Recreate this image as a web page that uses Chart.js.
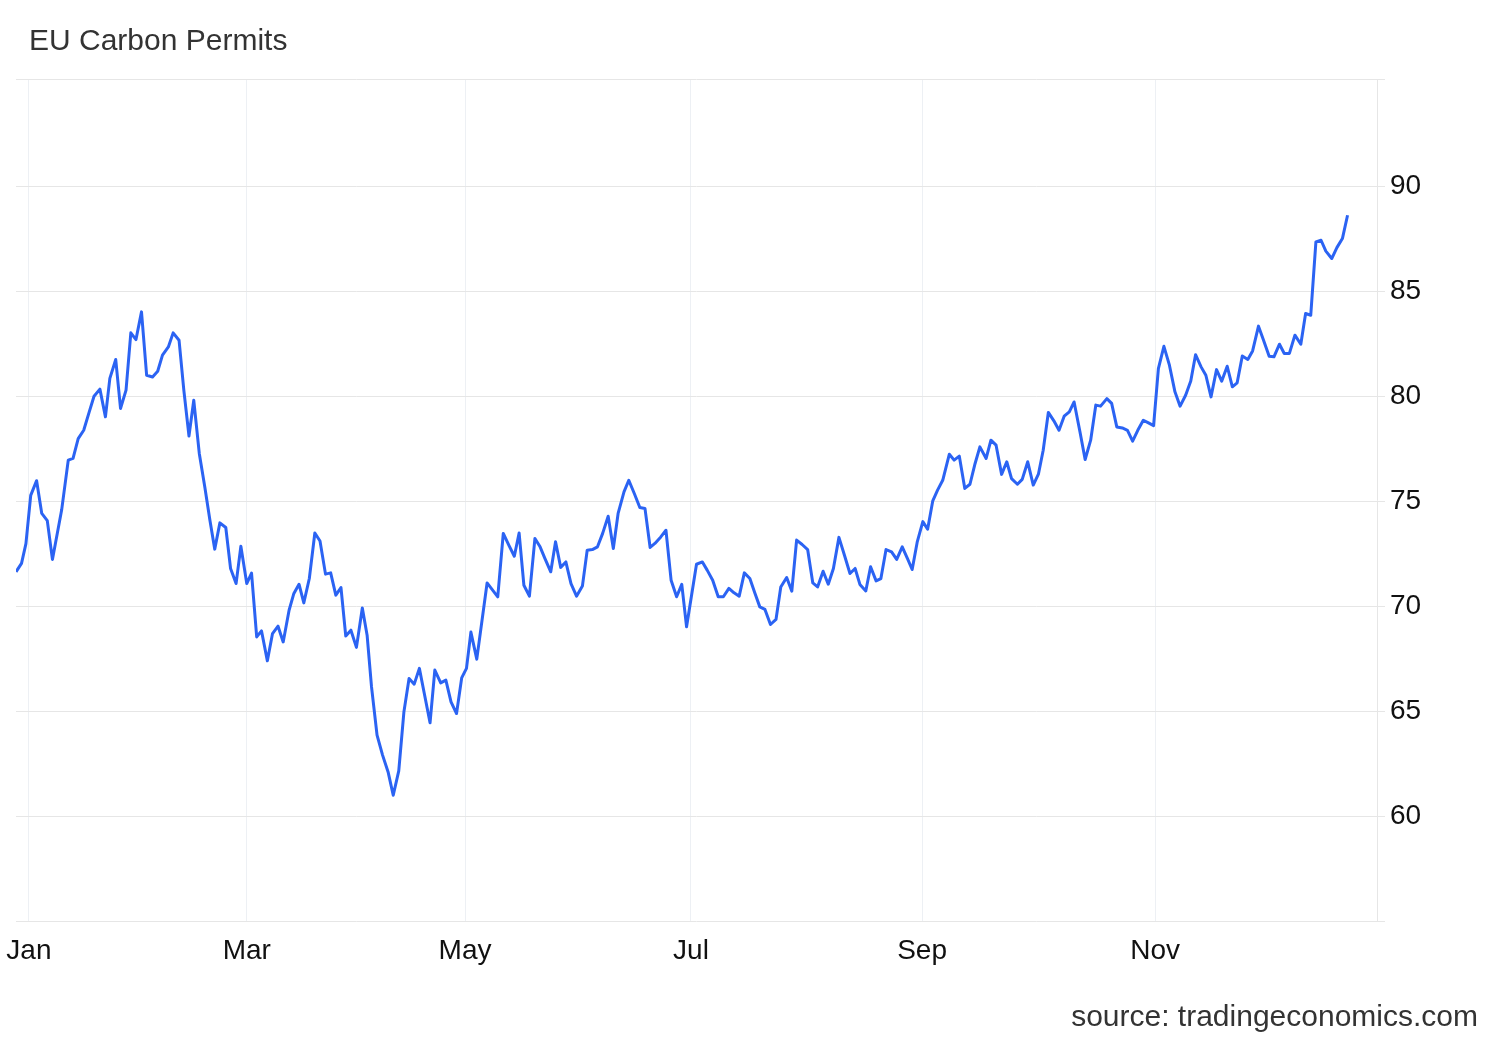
<!DOCTYPE html>
<html>
<head>
<meta charset="utf-8">
<title>EU Carbon Permits</title>
<script src="https://cdn.jsdelivr.net/npm/chart.js@4.4.1/dist/chart.umd.min.js"></script>
<style>
  html, body { margin: 0; padding: 0; background: #fff; }
  #wrap { position: relative; width: 1500px; height: 1040px; overflow: hidden; }
  #chart { position: absolute; left: 0; top: 0; }
  .txt { position: absolute; font-family: 'Liberation Sans', Arial, sans-serif; font-size: 30px; line-height: 30px; color: #333; white-space: nowrap; }
  #title  { left: 29px; top: 25px; }
  #source { right: 22px; top: 1001px; }
</style>
</head>
<body>
<div id="wrap">
  <canvas id="chart" width="1500" height="1040"></canvas>
  <div id="title" class="txt">EU Carbon Permits</div>
  <div id="source" class="txt">source: tradingeconomics.com</div>
</div>
<script>
// x = days since 1 Jan, y = EUR per tonne
const days = [
  -3.5, -2.0, -0.8, 0.5, 2.1, 3.5, 5.0, 6.4, 8.9, 10.7,
  12.0, 13.4, 14.9, 16.4, 17.7, 19.3, 20.8, 22.0, 23.6, 24.9,
  26.4, 27.7, 29.1, 30.6, 32.0, 33.6, 35.0, 36.3, 37.9, 39.2,
  40.8, 42.1, 43.5, 44.8, 46.3, 47.8, 49.2, 50.5, 51.9, 53.5,
  54.8, 56.3, 57.6, 59.2, 60.5, 61.9, 63.2, 64.8, 66.2, 67.7,
  69.1, 70.7, 72.0, 73.4, 74.7, 76.2, 77.7, 79.1, 80.6, 82.0,
  83.4, 84.8, 86.1, 87.5, 89.0, 90.6, 91.9, 93.1, 94.6, 96.1,
  97.6, 99.0, 100.5, 101.9, 103.3, 104.7, 106.1, 107.4, 109.0, 110.3,
  111.9, 113.3, 114.7, 116.2, 117.6, 118.9, 120.1, 121.7, 124.5, 127.4,
  128.9, 130.4, 131.9, 133.2, 134.5, 136.0, 137.5, 138.9, 140.2, 141.8,
  143.1, 144.5, 145.9, 147.3, 148.8, 150.4, 151.7, 153.1, 154.5, 155.9,
  157.4, 158.8, 160.1, 161.7, 163.0, 164.5, 166.0, 167.4, 168.8, 170.1,
  171.7, 173.1, 174.5, 176.0, 177.4, 178.7, 181.4, 183.0, 184.3, 185.8,
  187.3, 188.7, 190.2, 191.6, 193.0, 194.4, 195.9, 197.3, 198.6, 200.0,
  201.5, 203.0, 204.3, 205.9, 207.3, 208.6, 210.1, 211.6, 213.0, 214.3,
  215.8, 217.2, 218.6, 220.1, 221.6, 223.1, 224.5, 225.8, 227.4, 228.7,
  230.2, 231.5, 232.9, 234.4, 235.8, 237.3, 238.7, 240.0, 241.4, 242.9,
  244.2, 245.6, 246.9, 248.3, 250.1, 251.4, 252.8, 254.3, 255.7, 257.1,
  258.4, 260.1, 261.4, 262.8, 264.3, 265.7, 267.0, 268.6, 269.9, 271.4,
  272.9, 274.3, 275.6, 277.0, 278.5, 279.9, 281.3, 282.7, 284.0, 285.6,
  287.0, 288.5, 289.9, 291.2, 292.9, 294.2, 295.6, 297.1, 298.5, 299.9,
  301.3, 302.8, 304.2, 305.6, 306.9, 308.4, 309.9, 311.4, 312.8, 314.3,
  315.7, 317.0, 318.5, 319.8, 321.2, 322.7, 324.1, 325.6, 327.0, 328.3,
  329.7, 331.2, 332.5, 334.1, 335.4, 337.0, 338.3, 339.8, 341.1, 342.5,
  344.0, 345.6, 346.9, 348.3, 349.7, 351.1, 352.4, 354.0, 355.4, 356.9,
  358.3
];
const prices = [
  71.66, 72.06, 73.00, 75.30, 76.00, 74.44, 74.10, 72.25, 74.60, 76.98,
  77.06, 78.00, 78.40, 79.28, 80.02, 80.36, 79.04, 80.87, 81.77, 79.44,
  80.31, 83.04, 82.72, 84.04, 81.02, 80.94, 81.21, 81.98, 82.37, 83.04,
  82.69, 80.31, 78.13, 79.83, 77.30, 75.70, 74.10, 72.74, 73.99, 73.77,
  71.82, 71.10, 72.88, 71.10, 71.60, 68.56, 68.85, 67.42, 68.72, 69.07,
  68.32, 69.83, 70.63, 71.07, 70.18, 71.34, 73.51, 73.13, 71.55, 71.61,
  70.55, 70.91, 68.60, 68.88, 68.06, 69.94, 68.64, 66.18, 63.88, 62.93,
  62.13, 61.02, 62.18, 64.99, 66.58, 66.31, 67.06, 65.90, 64.47, 66.98,
  66.37, 66.50, 65.47, 64.91, 66.61, 67.06, 68.79, 67.50, 71.13, 70.47,
  73.49, 72.93, 72.40, 73.51, 71.02, 70.50, 73.25, 72.85, 72.30, 71.66,
  73.09, 71.87, 72.13, 71.10, 70.50, 70.98, 72.69, 72.72, 72.85, 73.49,
  74.31, 72.77, 74.44, 75.47, 76.02, 75.39, 74.72, 74.68, 72.82, 73.01,
  73.32, 73.64, 71.26, 70.47, 71.06, 69.04, 72.02, 72.13, 71.74, 71.26,
  70.47, 70.47, 70.87, 70.66, 70.50, 71.61, 71.34, 70.63, 69.99, 69.87,
  69.15, 69.39, 70.94, 71.39, 70.74, 73.17, 72.96, 72.72, 71.13, 70.94,
  71.69, 71.07, 71.82, 73.30, 72.45, 71.58, 71.82, 71.06, 70.75, 71.90,
  71.23, 71.34, 72.72, 72.61, 72.25, 72.85, 72.30, 71.77, 73.10, 74.05,
  73.69, 75.04, 75.55, 76.02, 77.26, 76.98, 77.17, 75.63, 75.83, 76.82,
  77.61, 77.06, 77.93, 77.69, 76.30, 76.90, 76.10, 75.83, 76.06, 76.90,
  75.79, 76.31, 77.45, 79.25, 78.85, 78.40, 79.07, 79.28, 79.75, 78.32,
  77.01, 77.93, 79.60, 79.55, 79.91, 79.68, 78.56, 78.51, 78.40, 77.88,
  78.40, 78.88, 78.75, 78.62, 81.34, 82.40, 81.50, 80.23, 79.55, 80.07,
  80.75, 82.00, 81.42, 81.02, 79.99, 81.29, 80.74, 81.45, 80.47, 80.66,
  81.94, 81.77, 82.18, 83.36, 82.72, 81.93, 81.90, 82.50, 82.06, 82.06,
  82.93, 82.50, 83.96, 83.88, 87.37, 87.45, 86.93, 86.58, 87.10, 87.53,
  88.64
];

// axis ranges and ticks (month marks sit where the reference's axis puts them)
const xMin = -3.5, xMax = 366.3;
const yMin = 55.03, yMax = 95.13;
const monthTicks  = [0, 59.2, 118.5, 179.9, 242.7, 306.0];
const monthLabels = ['Jan', 'Mar', 'May', 'Jul', 'Sep', 'Nov'];
const priceTicks  = [yMin, 60, 65, 70, 75, 80, 85, 90, yMax];
const priceLabels = ['', '60', '65', '70', '75', '80', '85', '90', ''];

const FONT = "'Liberation Sans', Arial, sans-serif";

const ctx = document.getElementById('chart').getContext('2d');
new Chart(ctx, {
  type: 'line',
  data: {
    datasets: [{
      data: days.map((d, i) => ({ x: d, y: prices[i] })),
      borderColor: '#2b63f3',
      borderWidth: 3,
      pointRadius: 0,
      tension: 0,
      fill: false,
      borderJoinStyle: 'round',
    }],
  },
  options: {
    responsive: false,
    animation: false,
    layout: { padding: { left: 16, top: 79, right: 0, bottom: 0 } },
    plugins: {
      legend:  { display: false },
      tooltip: { enabled: false },
    },
    scales: {
      x: {
        type: 'linear',
        min: xMin,
        max: xMax,
        afterBuildTicks: (s) => { s.ticks = monthTicks.map(v => ({ value: v })); },
        afterFit: (s) => {
          s.height = 119;
          s.paddingLeft = 0;   // "Jan" may hang past the plot edge
          s.paddingRight = 0;
        },
        ticks: {
          autoSkip: false,
          maxRotation: 0,
          padding: 13,
          color: '#111',
          font: { family: FONT, size: 28 },
          callback: (v, i) => monthLabels[i],
        },
        grid:   { color: '#edf0f4', drawTicks: false },
        border: { display: false },
      },
      y: {
        position: 'right',
        min: yMin,
        max: yMax,
        afterBuildTicks: (s) => { s.ticks = priceTicks.map(v => ({ value: v })); },
        afterFit: (s) => {
          s.width = 123;
          s.paddingTop = 0;
          s.paddingBottom = 0;
        },
        ticks: {
          padding: 5,
          color: '#111',
          font: { family: FONT, size: 28 },
          callback: (v, i) => priceLabels[i],
        },
        grid:   { color: '#e6e6e6', tickLength: 8 },
        border: { color: '#e6e6e6' },
      },
    },
  },
});
</script>
</body>
</html>
